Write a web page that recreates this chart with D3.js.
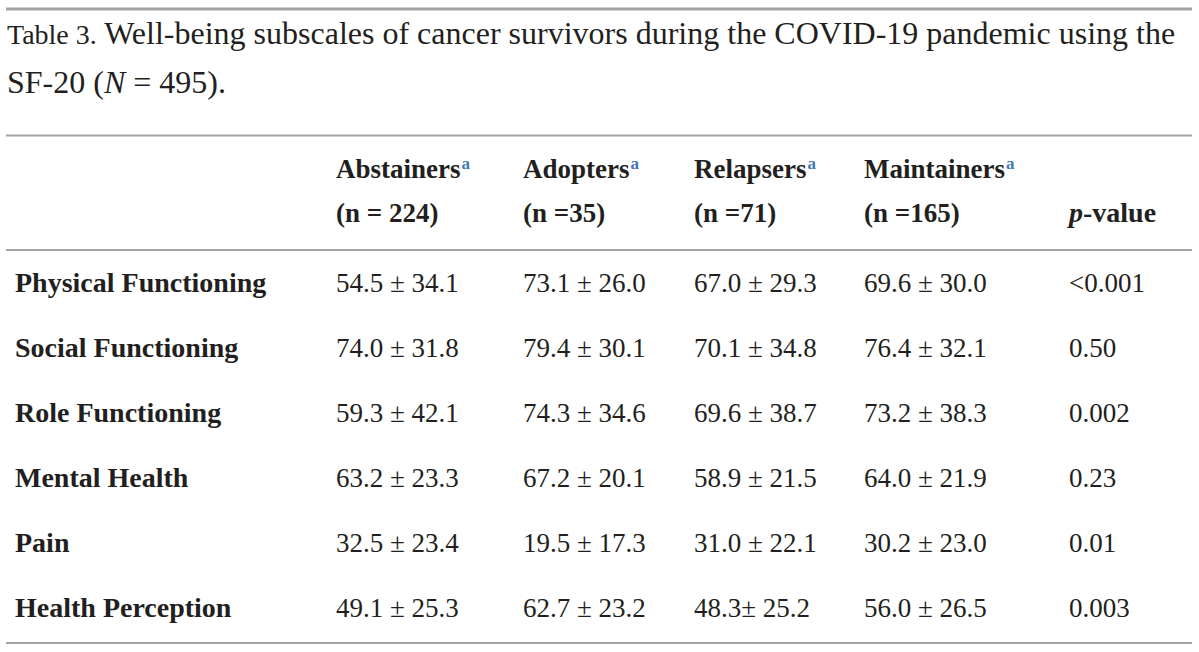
<!DOCTYPE html>
<html><head><meta charset="utf-8">
<script src="https://cdn.jsdelivr.net/npm/d3@7/dist/d3.min.js"></script>
<style>
html,body{margin:0;padding:0;background:#fff;}
svg{display:block;}
text{font-family:"Liberation Serif","Times New Roman",serif;fill:#231f20;}
</style></head><body>
<svg id="chart" width="1199" height="652"></svg>
<script>
const titleLine1Prefix = "Table 3.";
const titleLine1 = " Well-being subscales of cancer survivors during the COVID-19 pandemic using the";
const titleLine2 = ["SF-20 (", "N", " = 495)."];
const groups = ["Abstainers", "Adopters", "Relapsers", "Maintainers"];
const groupN = ["(n = 224)", "(n =35)", "(n =71)", "(n =165)"];
const subscales = ["Physical Functioning", "Social Functioning", "Role Functioning", "Mental Health", "Pain", "Health Perception"];
const abstainersMean = [54.5, 74.0, 59.3, 63.2, 32.5, 49.1];
const abstainersSD   = [34.1, 31.8, 42.1, 23.3, 23.4, 25.3];
const adoptersMean   = [73.1, 79.4, 74.3, 67.2, 19.5, 62.7];
const adoptersSD     = [26.0, 30.1, 34.6, 20.1, 17.3, 23.2];
const relapsersMean  = [67.0, 70.1, 69.6, 58.9, 31.0, 48.3];
const relapsersSD    = [29.3, 34.8, 38.7, 21.5, 22.1, 25.2];
const maintainersMean= [69.6, 76.4, 73.2, 64.0, 30.2, 56.0];
const maintainersSD  = [30.0, 32.1, 38.3, 21.9, 23.0, 26.5];
const pValues = ["<0.001", "0.50", "0.002", "0.23", "0.01", "0.003"];
const compactSep = [false, false, false, false, false, true]; // "48.3± 25.2" in Relapsers

const means = [abstainersMean, adoptersMean, relapsersMean, maintainersMean];
const sds = [abstainersSD, adoptersSD, relapsersSD, maintainersSD];

const svg = d3.select("#chart");
const ruleColor = "#a3a3a3";
const left = 6, right = 1192;

// columns
const colKeys = ["label", ...groups, "p"];
const colX = d3.scaleOrdinal().domain(colKeys).range([15, 336, 523, 694, 864, 1069]);
// rows
const rowY = d3.scalePoint().domain(subscales).range([292, 617]);

// rules
svg.append("line").attr("x1", left).attr("x2", right).attr("y1", 9).attr("y2", 9)
  .attr("stroke", ruleColor).attr("stroke-width", 3);
[135.5, 250, 643].forEach(y => {
  svg.append("line").attr("x1", left).attr("x2", right).attr("y1", y).attr("y2", y)
    .attr("stroke", ruleColor).attr("stroke-width", 2);
});

// title
const t1 = svg.append("text").attr("x", 7).attr("y", 44).style("font-size", "32px");
t1.append("tspan").style("font-size", "28px").text(titleLine1Prefix);
t1.append("tspan").text(titleLine1);
const t2 = svg.append("text").attr("x", 7).attr("y", 93).style("font-size", "32px");
t2.append("tspan").text(titleLine2[0]);
t2.append("tspan").style("font-style", "italic").text(titleLine2[1]);
t2.append("tspan").text(titleLine2[2]);

// header
const hdr = svg.append("g").style("font-weight", "bold").style("font-size", "27px");
groups.forEach((g, i) => {
  const tx = hdr.append("text").attr("x", colX(g)).attr("y", 178);
  tx.append("tspan").text(g);
  tx.append("tspan").attr("dy", -9).attr("dx", 1).style("font-size", "17px").style("fill", "#3f78b4").style("font-weight", "bold").text("a");
  hdr.append("text").attr("x", colX(g)).attr("y", 222).text(groupN[i]);
});
const pv = hdr.append("text").attr("x", colX("p")).attr("y", 222).style("font-size", "28px");
pv.append("tspan").style("font-style", "italic").text("p");
pv.append("tspan").text("-value");

// body
const body = svg.append("g");
subscales.forEach((s, r) => {
  body.append("text").attr("x", colX("label")).attr("y", rowY(s))
    .style("font-weight", "bold").style("font-size", "28px").text(s);
  groups.forEach((g, c) => {
    const sep = (c === 2 && compactSep[r]) ? "± " : " ± ";
    body.append("text").attr("x", colX(g)).attr("y", rowY(s)).style("font-size", "27px")
      .text(d3.format(".1f")(means[c][r]) + sep + d3.format(".1f")(sds[c][r]));
  });
  body.append("text").attr("x", colX("p")).attr("y", rowY(s)).style("font-size", "27px").text(pValues[r]);
});
</script>
</body></html>
